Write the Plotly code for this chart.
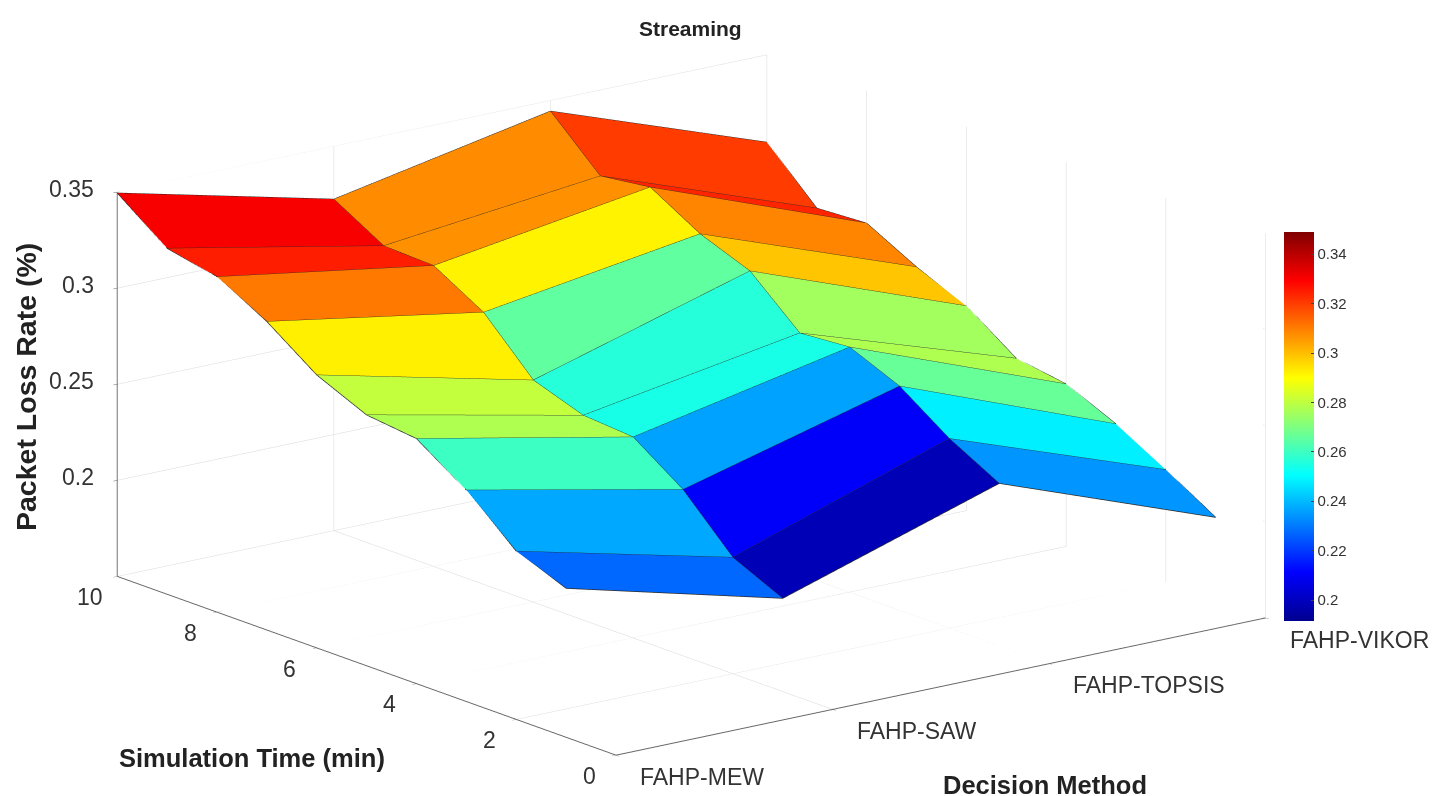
import plotly.graph_objects as go

methods = ["FAHP-MEW", "FAHP-SAW", "FAHP-TOPSIS", "FAHP-VIKOR"]
method_pos = [1, 2, 3, 4]
times = [1, 2, 3, 4, 5, 6, 7, 8, 9, 10]
mew = [.2275, .2375, .26, .2775, .2805, .292, .3105, .3245, .33, .3495]
saw = [.1985, .2105, .2365, .2545, .2565, .2655, .2915, .3065, .3075, .3225]
topsis = [.2345, .2485, .2665, .2775, .2755, .2985, .3085, .3235, .32, .3445]
vikor = [.193, .2085, .223, .2345, .2385, .2565, .2675, .281, .2795, .3045]
z_rows = [mew, saw, topsis, vikor]
y_ticks = [0, 2, 4, 6, 8, 10]
z_ticks = [0.2, 0.25, 0.3, 0.35]
cb_ticks = [0.2, 0.22, 0.24, 0.26, 0.28, 0.3, 0.32, 0.34]
jet = [[0, "#00008f"], [0.125, "#0000ff"], [0.375, "#00ffff"], [0.625, "#ffff00"], [0.875, "#ff0000"], [1, "#800000"]]

nx, ny = len(method_pos), len(times)
X, Y, Z, I, J, K, C = [], [], [], [], [], [], []
for a in range(nx):
    for b in range(ny):
        X.append(method_pos[a]); Y.append(times[b]); Z.append(z_rows[a][b])
idx = lambda a, b: a * ny + b
for a in range(nx - 1):
    for b in range(ny - 1):
        v = z_rows[a][b]
        I += [idx(a, b), idx(a, b)]
        J += [idx(a + 1, b), idx(a + 1, b + 1)]
        K += [idx(a + 1, b + 1), idx(a, b + 1)]
        C += [v, v]

fig = go.Figure()
fig.add_trace(go.Mesh3d(
    x=X, y=Y, z=Z, i=I, j=J, k=K, intensity=C, intensitymode="cell",
    colorscale=jet, cmin=0.1915, cmax=0.349, flatshading=True,
    lighting=dict(ambient=1, diffuse=0, specular=0, fresnel=0, roughness=1),
    hoverinfo="skip",
    colorbar=dict(
        x=1284 / 1437, xanchor="left", xpad=0, y=1 - 232 / 796, yanchor="top", ypad=0,
        lenmode="pixels", len=389, thicknessmode="pixels", thickness=30,
        tickvals=cb_ticks, ticktext=[f"{t:g}" for t in cb_ticks], ticks="inside", ticklen=3,
        tickfont=dict(family="Liberation Sans", size=15, color="#333"),
        outlinewidth=0,
    ),
))

# facet edges
ex, ey, ez = [], [], []
for a in range(nx):
    for b in range(ny):
        ex.append(method_pos[a]); ey.append(times[b]); ez.append(z_rows[a][b])
    ex.append(None); ey.append(None); ez.append(None)
for b in range(ny):
    for a in range(nx):
        ex.append(method_pos[a]); ey.append(times[b]); ez.append(z_rows[a][b])
    ex.append(None); ey.append(None); ez.append(None)
fig.add_trace(go.Scatter3d(x=ex, y=ey, z=ez, mode="lines", line=dict(color="#2a2a2a", width=1.5),
                           hoverinfo="skip", showlegend=False))

# light box grid
zlo, zhi = 0.15, 0.35
xlo, xhi = method_pos[0], method_pos[-1]
ylo, yhi = y_ticks[0], y_ticks[-1]
gx, gy, gz = [], [], []
def seg(p, q):
    gx.extend([p[0], q[0], None]); gy.extend([p[1], q[1], None]); gz.extend([p[2], q[2], None])
for v in method_pos:
    seg((v, ylo, zlo), (v, yhi, zlo)); seg((v, yhi, zlo), (v, yhi, zhi))
for v in y_ticks:
    seg((xlo, v, zlo), (xhi, v, zlo)); seg((xhi, v, zlo), (xhi, v, zhi))
for v in z_ticks:
    seg((xlo, yhi, v), (xhi, yhi, v)); seg((xhi, yhi, v), (xhi, ylo, v))
fig.add_trace(go.Scatter3d(x=gx, y=gy, z=gz, mode="lines", line=dict(color="#dadada", width=1),
                           hoverinfo="skip", showlegend=False))

def axis(**kw):
    return dict(showgrid=False, showbackground=False, zeroline=False, showspikes=False, showline=True,
                linecolor="#666", linewidth=2, ticks="outside", ticklen=5, tickcolor="#666",
                showticklabels=False, title=dict(text=""), **kw)

label_font = dict(family="Liberation Sans", size=23, color="#333")
scene_labels = []
for v, t in zip(method_pos, methods):
    scene_labels.append(dict(x=v, y=ylo, z=zlo, text=t, xanchor="left", yanchor="middle", xshift=22, yshift=-22))
for v in y_ticks:
    scene_labels.append(dict(x=xlo, y=v, z=zlo, text=f"{v}", xanchor="center", yanchor="middle", xshift=-27, yshift=-21))
for v in z_ticks:
    scene_labels.append(dict(x=xlo, y=yhi, z=v, text=f"{v:g}", xanchor="right", yanchor="middle", xshift=-21, yshift=3))
for s in scene_labels:
    s.update(showarrow=False, font=label_font)

R = 2.5
fig.update_layout(
    width=1437, height=796, margin=dict(l=0, r=0, t=0, b=0), paper_bgcolor="white", showlegend=False,
    scene=dict(
        domain=dict(x=[0, 1383 / 1437], y=[0.0017, 0.9817]),
        xaxis=axis(range=[xlo, xhi], tickvals=method_pos),
        yaxis=axis(range=[ylo, yhi], tickvals=y_ticks),
        zaxis=axis(range=[zlo, zhi], tickvals=z_ticks),
        annotations=scene_labels,
        aspectmode="manual", aspectratio=dict(x=2.1, y=2.1, z=1.025),
        camera=dict(projection=dict(type="orthographic"), up=dict(x=0, y=0, z=1), center=dict(x=0, y=0, z=0),
                    eye=dict(x=-0.585 * R, y=-0.762 * R, z=0.275 * R)),
    ),
    annotations=[
        dict(text="<b>Streaming</b>", x=690 / 1437, y=1 - 28 / 796, font=dict(size=21, family="Liberation Sans", color="#222")),
        dict(text="<b>Packet Loss Rate (%)</b>", x=26 / 1437, y=1 - 387 / 796, textangle=-90, font=dict(size=28.5, family="Liberation Sans", color="#222")),
        dict(text="<b>Simulation Time (min)</b>", x=252 / 1437, y=1 - 758 / 796, font=dict(size=25.5, family="Liberation Sans", color="#222")),
        dict(text="<b>Decision Method</b>", x=1045 / 1437, y=1 - 785 / 796, font=dict(size=25.5, family="Liberation Sans", color="#222")),
    ],
)
for a in fig.layout.annotations:
    a.update(xref="paper", yref="paper", showarrow=False, xanchor="center", yanchor="middle")

fig.write_html("out.html", config=dict(displayModeBar=False),
               post_script="document.body.style.margin='0';document.body.style.overflow='hidden';")
